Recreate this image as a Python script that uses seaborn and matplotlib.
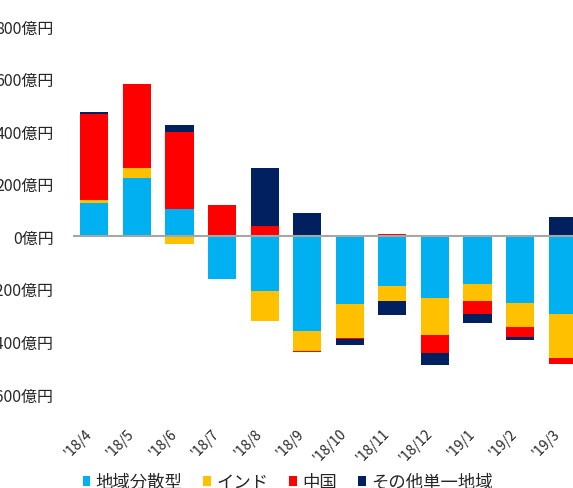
import numpy as np
import pandas as pd
import seaborn as sns
import matplotlib
matplotlib.use("Agg")
import matplotlib.pyplot as plt
from matplotlib.patches import Patch

months = ["'18/4", "'18/5", "'18/6", "'18/7", "'18/8", "'18/9",
          "'18/10", "'18/11", "'18/12", "'19/1", "'19/2", "'19/3"]
series_names = ["地域分散型", "インド", "中国", "その他単一地域"]
diversified = [126, 220, 105, -164, -210, -359, -256, -190, -234, -182, -253, -296]
india = [11, 40, -28, 3, -114, -76, -131, -55, -141, -65, -93, -166]
china = [330, 319, 292, 115, 38, -6, -4, 10, -70, -47, -38, -24]
other_single = [4, 0, 28, 0, 222, 89, -22, -55, -43, -37, -10, 74]
yticks = [-600, -400, -200, 0, 200, 400, 600, 800]
colors = ["#00B0F0", "#FFC000", "#FF0000", "#002060"]

sns.set_theme(style="white")
plt.rcParams['font.family'] = ['Noto Sans CJK JP', 'DejaVu Sans']

fig = plt.figure(figsize=(5.73, 4.89), dpi=100)
ax = fig.add_axes([73/573, 94/489, 511/573, 368/489])

df = pd.DataFrame({"month": months,
                   series_names[0]: diversified,
                   series_names[1]: india,
                   series_names[2]: china,
                   series_names[3]: other_single})

x = np.arange(len(months))
pos_base = np.zeros(len(months))
neg_base = np.zeros(len(months))
for name, col in zip(series_names, colors):
    vals = df[name].to_numpy(dtype=float)
    bottoms = np.where(vals >= 0, pos_base, neg_base)
    ax.bar(x, vals, bottom=bottoms, width=0.66, color=col, linewidth=0)
    pos_base = pos_base + np.where(vals > 0, vals, 0)
    neg_base = neg_base + np.where(vals < 0, vals, 0)

ax.axhline(0, color="#A6A6A6", linewidth=1.5, zorder=3)
ax.set_xlim(-0.5, len(months) - 0.5)
ax.set_ylim(-600, 800)
ax.set_yticks(yticks)
ax.set_yticklabels([f"{v}億円" for v in yticks], fontsize=11.5)
ax.set_xticks(x)
ax.set_xticklabels(months, rotation=45, ha="right", fontsize=10)
ax.tick_params(axis="y", length=0, pad=14)
ax.tick_params(axis="x", length=0, pad=23)
for s in ax.spines.values():
    s.set_visible(False)
ax.grid(False)

handles = [Patch(facecolor=c, edgecolor="none") for c in colors]
fig.legend(handles, series_names, loc="center", bbox_to_anchor=(0.502, 0.012),
           ncol=4, frameon=False, fontsize=12.5, handlelength=0.45, handleheight=0.45,
           handletextpad=0.3, columnspacing=1.2)

fig.savefig("out.png", dpi=100)
